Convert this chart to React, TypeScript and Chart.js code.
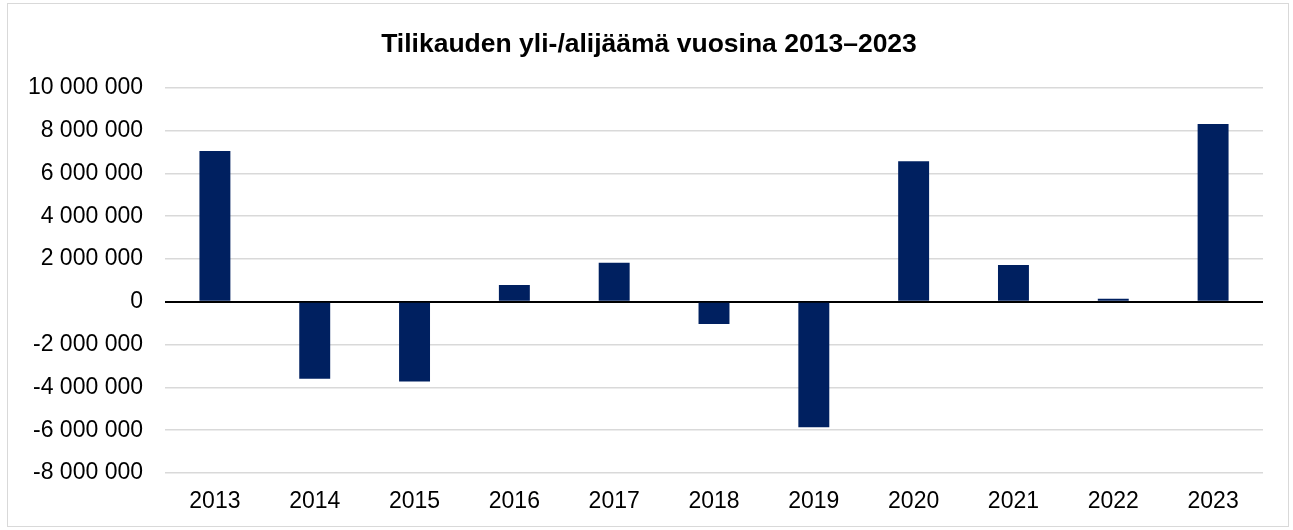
import React, { useEffect, useRef } from "react";
import { Chart, registerables } from "chart.js";

Chart.register(...registerables);

const titleText = "Tilikauden yli-/alijäämä vuosina 2013–2023";
const years = ["2013", "2014", "2015", "2016", "2017", "2018", "2019", "2020", "2021", "2022", "2023"];
const surplus = [7050000, -3590000, -3730000, 790000, 1820000, -1040000, -5860000, 6570000, 1720000, 140000, 8310000];
const yMin = -8000000;
const yMax = 10000000;
const yStep = 2000000;

const fmt = (v: number) => {
  const s = Math.abs(Math.round(v)).toString().replace(/\B(?=(\d{3})+(?!\d))/g, " ");
  return (v < 0 ? "-" : "") + s;
};

const FONT = "'Liberation Sans', Arial, sans-serif";

export default function App() {
  const ref = useRef<HTMLCanvasElement | null>(null);

  useEffect(() => {
    if (!ref.current) return;
    const chart = new Chart(ref.current, {
      type: "bar",
      data: {
        labels: years,
        datasets: [
          {
            data: surplus,
            backgroundColor: "#002060",
            borderWidth: 0,
            categoryPercentage: 1,
            barPercentage: 0.31,
          },
        ],
      },
      options: {
        responsive: false,
        animation: false,
        layout: { padding: { left: 5, right: 0, top: 0, bottom: 0 } },
        plugins: {
          legend: { display: false },
          tooltip: { enabled: false },
          title: {
            display: true,
            text: titleText,
            color: "#000",
            font: { family: FONT, size: 26.5, weight: "bold" },
            padding: { top: 28.5, bottom: 27.5 },
          },
        },
        scales: {
          x: {
            grid: { display: false, drawTicks: false },
            border: { display: false },
            ticks: {
              color: "#000",
              font: { family: FONT, size: 23 },
              padding: 15,
              maxRotation: 0,
              autoSkip: false,
            },
            afterFit: (s: any) => {
              s.height = 57;
            },
          },
          y: {
            min: yMin,
            max: yMax,
            grid: {
              drawTicks: false,
              color: (c: any) => (c.tick && c.tick.value === 0 ? "#000" : "#d9d9d9"),
              lineWidth: (c: any) => (c.tick && c.tick.value === 0 ? 2 : 1.5),
            },
            border: { display: false },
            ticks: {
              stepSize: yStep,
              color: "#000",
              font: { family: FONT, size: 23 },
              padding: 22,
              callback: (v: any) => fmt(Number(v)),
            },
            afterFit: (s: any) => {
              s.width = 160;
            },
          },
          yRight: {
            position: "right",
            min: yMin,
            max: yMax,
            grid: { display: false, drawTicks: false },
            border: { display: false },
            ticks: { display: false },
            afterFit: (s: any) => {
              s.width = 30;
            },
          },
        },
      },
    } as any);
    return () => chart.destroy();
  }, []);

  return (
    <div style={{ position: "fixed", left: 0, top: 0, width: 1293, height: 530, background: "#fff" }}>
      <div
        style={{
          position: "absolute",
          left: 7,
          top: 3,
          width: 1282,
          height: 524,
          boxSizing: "border-box",
          border: "1px solid #d9d9d9",
        }}
      />
      <canvas ref={ref} width={1293} height={530} style={{ position: "absolute", left: 0, top: 0 }} />
    </div>
  );
}
